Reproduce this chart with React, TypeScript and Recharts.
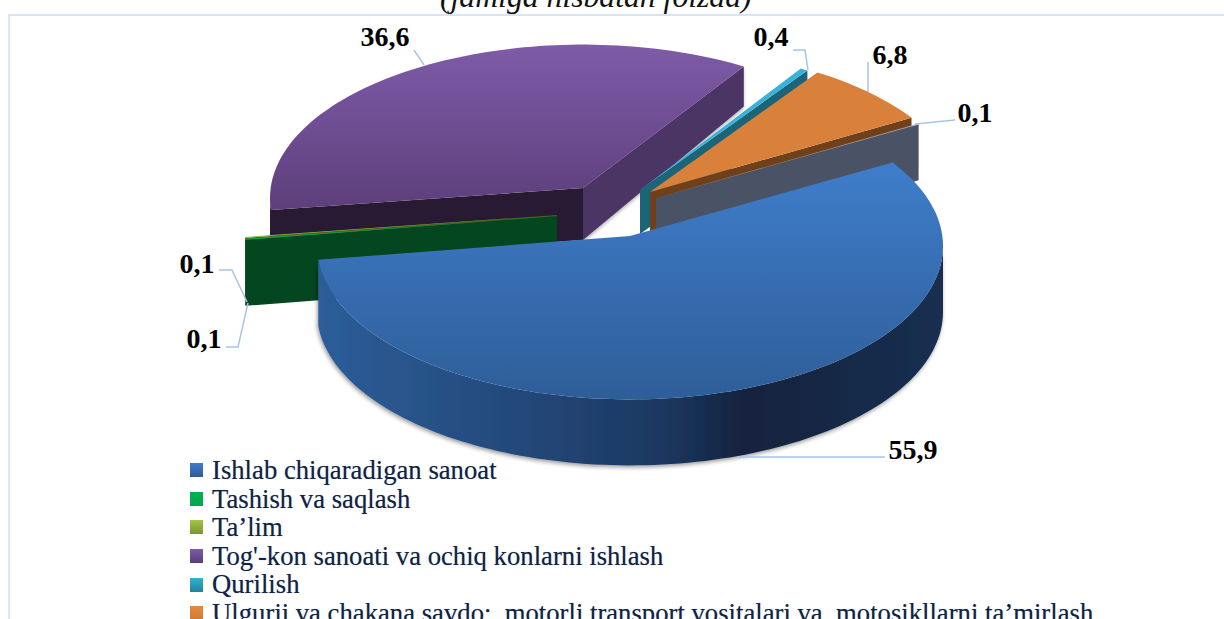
import React from "react";
import { PieChart, Pie, Legend } from "recharts";

const categories = [
  "Ishlab chiqaradigan sanoat",
  "Tashish va saqlash",
  "Ta’lim",
  "Tog'-kon sanoati va ochiq konlarni ishlash",
  "Qurilish",
  "Ulgurji va chakana savdo;  motorli transport vositalari va  motosikllarni ta’mirlash",
  "Boshqa",
];
const shares = [55.9, 0.1, 0.1, 36.6, 0.4, 6.8, 0.1];
const rows = categories.map((name, i) => ({ name, value: shares[i] }));

const visibleLegendRows = 6;
const paintOrder = [3, 4, 5, 6, 2, 1, 0];

type Look = {
  top: string;
  swatch: string;
  dx: number;
  dy: number;
  depth: number;
  depthSlope: number;
  radial: "start" | "end";
  radialFill: string;
  rimFill: string;
};

const looks: Look[] = [
  { top: "url(#blueTop)", swatch: "linear-gradient(#3e7cc8,#2e5e98)", dx: 0, dy: 0, depth: 66, depthSlope: 0, radial: "end", radialFill: "none", rimFill: "url(#blueWall)" },
  { top: "#00b050", swatch: "linear-gradient(#00b050,#00a84c)", dx: -73, dy: -20, depth: 66, depthSlope: 0, radial: "start", radialFill: "#03461f", rimFill: "#03461f" },
  { top: "#8fb63e", swatch: "linear-gradient(#a3c644,#78933a)", dx: -73, dy: -21, depth: 60, depthSlope: 0, radial: "start", radialFill: "#4a6020", rimFill: "#4a6020" },
  { top: "url(#purpleTop)", swatch: "linear-gradient(#7f5ba8,#5a3d78)", dx: -47, dy: -48, depth: 52, depthSlope: 14, radial: "start", radialFill: "#281a33", rimFill: "#2a1b35" },
  { top: "#38b2d6", swatch: "linear-gradient(#33b0d4,#24819c)", dx: 10, dy: -46, depth: 44, depthSlope: 0, radial: "end", radialFill: "#1c6478", rimFill: "#1c6478" },
  { top: "#d9813b", swatch: "linear-gradient(#e58a3c,#cf7b36)", dx: 20, dy: -44, depth: 44, depthSlope: 0, radial: "end", radialFill: "#70401a", rimFill: "#70401a" },
  { top: "#9aa3b5", swatch: "#4a5265", dx: 26, dy: -38, depth: 60, depthSlope: 8, radial: "end", radialFill: "#4a5265", rimFill: "#4a5265" },
];

const purpleSideWall = "#4c3465";
const RIM_LIFT = 10;
const SQUASH = 0.49;

const rad = (d: number) => (d * Math.PI) / 180;
// The picture's 3-D view: angles towards the viewer look a little wider than they are.
const viewAngle = (t: number) => t - 3.5 * (1 - Math.cos(rad(t - 40)));

function rim(p: any, look: Look, t: number) {
  const phi = viewAngle(t);
  const b = p.outerRadius * SQUASH;
  const x = p.cx + look.dx + p.outerRadius * Math.cos(rad(phi));
  const y = p.cy + look.dy + RIM_LIFT - b * Math.sin(rad(phi));
  return { x, y, s: Math.sin(rad(phi)) };
}
const toPath = (pts: { x: number; y: number }[]) =>
  "M" + pts.map((q) => `${q.x.toFixed(1)} ${q.y.toFixed(1)}`).join("L") + "Z";

function sampleAngles(a: number, b: number) {
  const out: number[] = [];
  const n = Math.max(2, Math.ceil(Math.abs(a - b) / 1.5));
  for (let i = 0; i <= n; i++) out.push(a + ((b - a) * i) / n);
  return out;
}

function makeSlice(only: number) {
  return function SliceShape(p: any) {
    const i = p.index;
    if (i !== only) return <g />;
    const look = looks[i];
    const apex = { x: p.cx + look.dx, y: p.cy + look.dy };
    const angles = sampleAngles(p.startAngle, p.endAngle);
    const arc = angles.map((t) => rim(p, look, t));
    const lower = (q: { x: number; y: number; s: number }) => ({
      x: q.x,
      y: q.y + look.depth - look.depthSlope * q.s,
    });
    const front = arc.filter((q) => q.s <= 0.002);
    const rimWall = front.length > 1 ? toPath([...front, ...[...front].reverse().map(lower)]) : null;
    const radialEnd = arc[look.radial === "start" ? 0 : arc.length - 1];
    const apexLow = { x: apex.x, y: apex.y + look.depth };
    const radialWall = toPath([apex, radialEnd, lower(radialEnd), apexLow]);
    const isBlue = i === 0;
    const isPurple = i === 3;
    const farEnd = arc[arc.length - 1];
    const firstEnd = arc[0];
    return (
      <g>
        {isBlue && (
          <defs>
            <linearGradient id="blueTop" x1="0" y1="0" x2="0" y2="1">
              <stop offset="0" stopColor="#3f7dcb" />
              <stop offset="1" stopColor="#2e5e98" />
            </linearGradient>
            <linearGradient id="blueWall" x1="0" y1="0" x2="1" y2="0">
              <stop offset="0" stopColor="#2d5d99" />
              <stop offset="0.3" stopColor="#244a7c" />
              <stop offset="0.55" stopColor="#1c3861" />
              <stop offset="0.68" stopColor="#14233e" />
              <stop offset="1" stopColor="#1a2f50" />
            </linearGradient>
          </defs>
        )}
        {isPurple && (
          <defs>
            <linearGradient id="purpleTop" x1="0" y1="0" x2="0" y2="1">
              <stop offset="0" stopColor="#7f5ba8" />
              <stop offset="1" stopColor="#5d3f7b" />
            </linearGradient>
            <filter id="softShadow" x="-5%" y="-5%" width="110%" height="115%">
              <feDropShadow dx="-1" dy="2" stdDeviation="2" floodColor="#000" floodOpacity="0.4" />
            </filter>
          </defs>
        )}
        {isPurple && (
          <path d={toPath([apex, farEnd, lower(farEnd), apexLow])} fill={purpleSideWall} filter="url(#softShadow)" />
        )}
        {isPurple && <path d={toPath([apex, firstEnd, lower(firstEnd), apexLow])} fill={look.radialFill} />}
        {!isBlue && !isPurple && <path d={radialWall} fill={look.radialFill} />}
        {rimWall && <path d={rimWall} fill={look.rimFill} filter={isBlue ? "url(#softShadow)" : undefined} />}
        <path d={toPath([apex, ...arc])} fill={look.top} />
      </g>
    );
  };
}

const leaderColor = "#a6c4ea";
const labelLayout: { x: number; y: number; line: number[][] }[] = [
  { x: 913, y: 459, line: [[737, 457], [885, 457]] },
  { x: 197, y: 273, line: [[219, 270], [232, 270], [247, 302]] },
  { x: 204, y: 348, line: [[226, 347], [238, 347], [248, 303]] },
  { x: 385, y: 46, line: [[414, 50], [424, 65]] },
  { x: 771, y: 46, line: [[793, 50], [805, 50], [808, 70]] },
  { x: 890, y: 64, line: [[868, 62], [868, 92]] },
  { x: 975, y: 122, line: [[955, 120], [935, 122], [915, 124]] },
];

function ValueLabel(p: any) {
  const i = p.index;
  const l = labelLayout[i];
  return (
    <g>
      <polyline
        points={l.line.map((q) => q.join(",")).join(" ")}
        fill="none"
        stroke={leaderColor}
        strokeWidth={1.5}
      />
      <text
        x={l.x}
        y={l.y}
        textAnchor="middle"
        fontFamily="'Liberation Serif', serif"
        fontWeight={700}
        fontSize={28}
        fill="#000"
      >
        {String(shares[i]).replace(".", ",")}
      </text>
    </g>
  );
}

function LegendRows() {
  return (
    <div style={{ fontFamily: "'Liberation Serif', serif", fontSize: 26.7, lineHeight: "28.6px", color: "#13233f", whiteSpace: "pre" }}>
      {categories.slice(0, visibleLegendRows).map((name, i) => (
        <div key={i} style={{ display: "flex", alignItems: "center", height: 28.6 }}>
          <span style={{ width: 13, height: 14, background: looks[i].swatch, marginRight: 9, flex: "none" }} />
          <span style={{ textShadow: "0 0 1px rgba(70,110,170,0.55)" }}>{name}</span>
        </div>
      ))}
    </div>
  );
}

const hiddenSector = () => <g />;

export default function App() {
  return (
    <div style={{ position: "fixed", left: 0, top: 0, width: 1224, height: 619, overflow: "hidden", background: "#fff" }}>
      <div style={{ position: "absolute", left: 8, top: 14, right: 0, bottom: -5, borderTop: "2px solid #d6e4f5", borderLeft: "2px solid #dbe7f7" }} />
      <div style={{ position: "absolute", left: 440, top: -21, fontFamily: "'Liberation Serif', serif", fontStyle: "italic", fontSize: 31.7, color: "#111", whiteSpace: "nowrap" }}>
        (jamiga nisbatan foizda)
      </div>
      <div style={{ position: "absolute", left: 0, top: 0 }}>
        <PieChart width={1224} height={619} margin={{ top: 0, right: 0, bottom: 0, left: 0 }}>
          {paintOrder.map((only) => (
            <Pie
              key={only}
              data={rows}
              dataKey="value"
              nameKey="name"
              cx={630}
              cy={236}
              outerRadius={313}
              startAngle={33}
              endAngle={-327}
              isAnimationActive={false}
              legendType="none"
              shape={makeSlice(only)}
            />
          ))}
          <Pie
            key="labels"
            data={rows}
            dataKey="value"
            nameKey="name"
            cx={630}
            cy={236}
            outerRadius={313}
            startAngle={33}
            endAngle={-327}
            legendType="none"
            isAnimationActive={false}
            shape={hiddenSector}
            label={ValueLabel}
            labelLine={false}
          />
          <Legend
            content={LegendRows}
            layout="horizontal"
            align="left"
            verticalAlign="bottom"
            wrapperStyle={{ left: 190, top: 456, width: 1000 }}
          />
        </PieChart>
      </div>
    </div>
  );
}
